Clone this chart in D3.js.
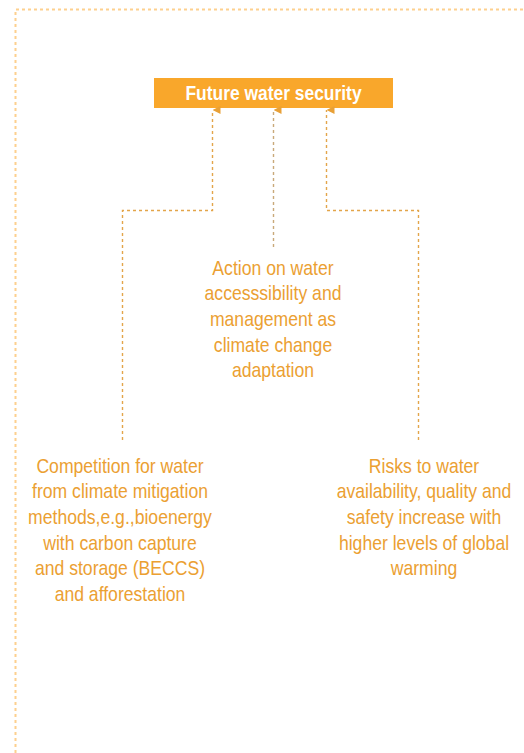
<!DOCTYPE html>
<html>
<head>
  <title>Future water security</title>
  <script src="https://d3js.org/d3.v7.min.js"></script>
  <style>
    body { margin: 0; background: #fff; }
    svg { display: block; }
    .label {
      font-family: "Liberation Sans", Arial, sans-serif;
      font-size: 20px;
      fill: #EBA032;
    }
    .title {
      font-family: "Liberation Sans", Arial, sans-serif;
      font-size: 21px;
      font-weight: bold;
      fill: #fff;
    }
  </style>
</head>
<body>
  <div id="chart"></div>
  <script>
    // 画布尺寸
    const width = 524;
    const height = 753;

    // 文本数据
    const titleText = "Future water security";
    const driverKeys = ["mitigation", "adaptation", "risks"];
    const driverLines = [
      ["Competition for water", "from climate mitigation", "methods,e.g.,bioenergy",
       "with carbon capture", "and storage (BECCS)", "and afforestation"],
      ["Action on water", "accesssibility and", "management as",
       "climate change", "adaptation"],
      ["Risks to water", "availability, quality and", "safety increase with",
       "higher levels of global", "warming"]
    ];

    const orange = "#F9A72B";
    const lineColor = "#E3A54A";
    const lineHeight = 25.6;
    const narrow = 0.88; // 模拟窄体字

    const svg = d3.select("#chart")
      .append("svg")
      .attr("width", width)
      .attr("height", height);

    // 外框（只看得到上边和左边）
    svg.append("path")
      .attr("d", `M15.5,${height} V9.5 H${width}`)
      .attr("fill", "none")
      .attr("stroke", "#FDD08E")
      .attr("stroke-width", 2)
      .attr("stroke-dasharray", "3,3");

    // 箭头
    svg.append("defs").append("marker")
      .attr("id", "arrow")
      .attr("viewBox", "0 0 10 10")
      .attr("refX", 5).attr("refY", 0)
      .attr("markerWidth", 8).attr("markerHeight", 8)
      .attr("markerUnits", "userSpaceOnUse")
      .attr("orient", "auto-start-reverse")
      .append("path")
      .attr("d", "M0,10 L5,0 L10,10 Z")
      .attr("fill", "#E8A036");

    // 标题框
    const box = { x: 154, y: 78, w: 239, h: 30 };
    svg.append("rect")
      .attr("x", box.x).attr("y", box.y)
      .attr("width", box.w).attr("height", box.h)
      .attr("fill", orange);
    svg.append("text")
      .attr("class", "title")
      .attr("transform", `translate(${box.x + box.w / 2},${box.y + box.h / 2 + 1}) scale(0.83,1)`)
      .attr("text-anchor", "middle")
      .attr("dominant-baseline", "middle")
      .text(titleText);

    // 各个驱动因素的位置
    const textTop = { mitigation: 467.5, adaptation: 269.5, risks: 467.5 };
    const textX = { mitigation: 120, adaptation: 273, risks: 424 };
    const arrowX = { mitigation: 212.5, adaptation: 273.5, risks: 326.5 };
    const lineX = { mitigation: 122, adaptation: 273.5, risks: 418 };

    // 连接线
    const tipY = box.y + box.h + 2;
    const elbowY = 210.5;
    const connectors = driverKeys.map(k => {
      if (k === "adaptation") {
        return { key: k, d: `M${arrowX[k]},247 V${tipY}` };
      }
      return { key: k, d: `M${lineX[k] + 0.5},440 V${elbowY} H${arrowX[k]} V${tipY}` };
    });

    svg.selectAll("path.conn")
      .data(connectors)
      .join("path")
      .attr("class", "conn")
      .attr("d", d => d.d)
      .attr("fill", "none")
      .attr("stroke", d => d.key === "adaptation" ? "#C9A97A" : lineColor)
      .attr("stroke-width", 1.4)
      .attr("stroke-dasharray", "3,3")
      .attr("marker-end", "url(#arrow)");

    // 文本
    const groups = svg.selectAll("g.driver")
      .data(driverKeys)
      .join("g")
      .attr("class", "driver")
      .attr("transform", k => `translate(${textX[k]},${textTop[k]}) scale(${narrow},1)`);

    groups.selectAll("text")
      .data((k, i) => driverLines[i])
      .join("text")
      .attr("class", "label")
      .attr("text-anchor", "middle")
      .attr("dominant-baseline", "middle")
      .attr("y", (d, i) => i * lineHeight)
      .text(d => d);
  </script>
</body>
</html>
